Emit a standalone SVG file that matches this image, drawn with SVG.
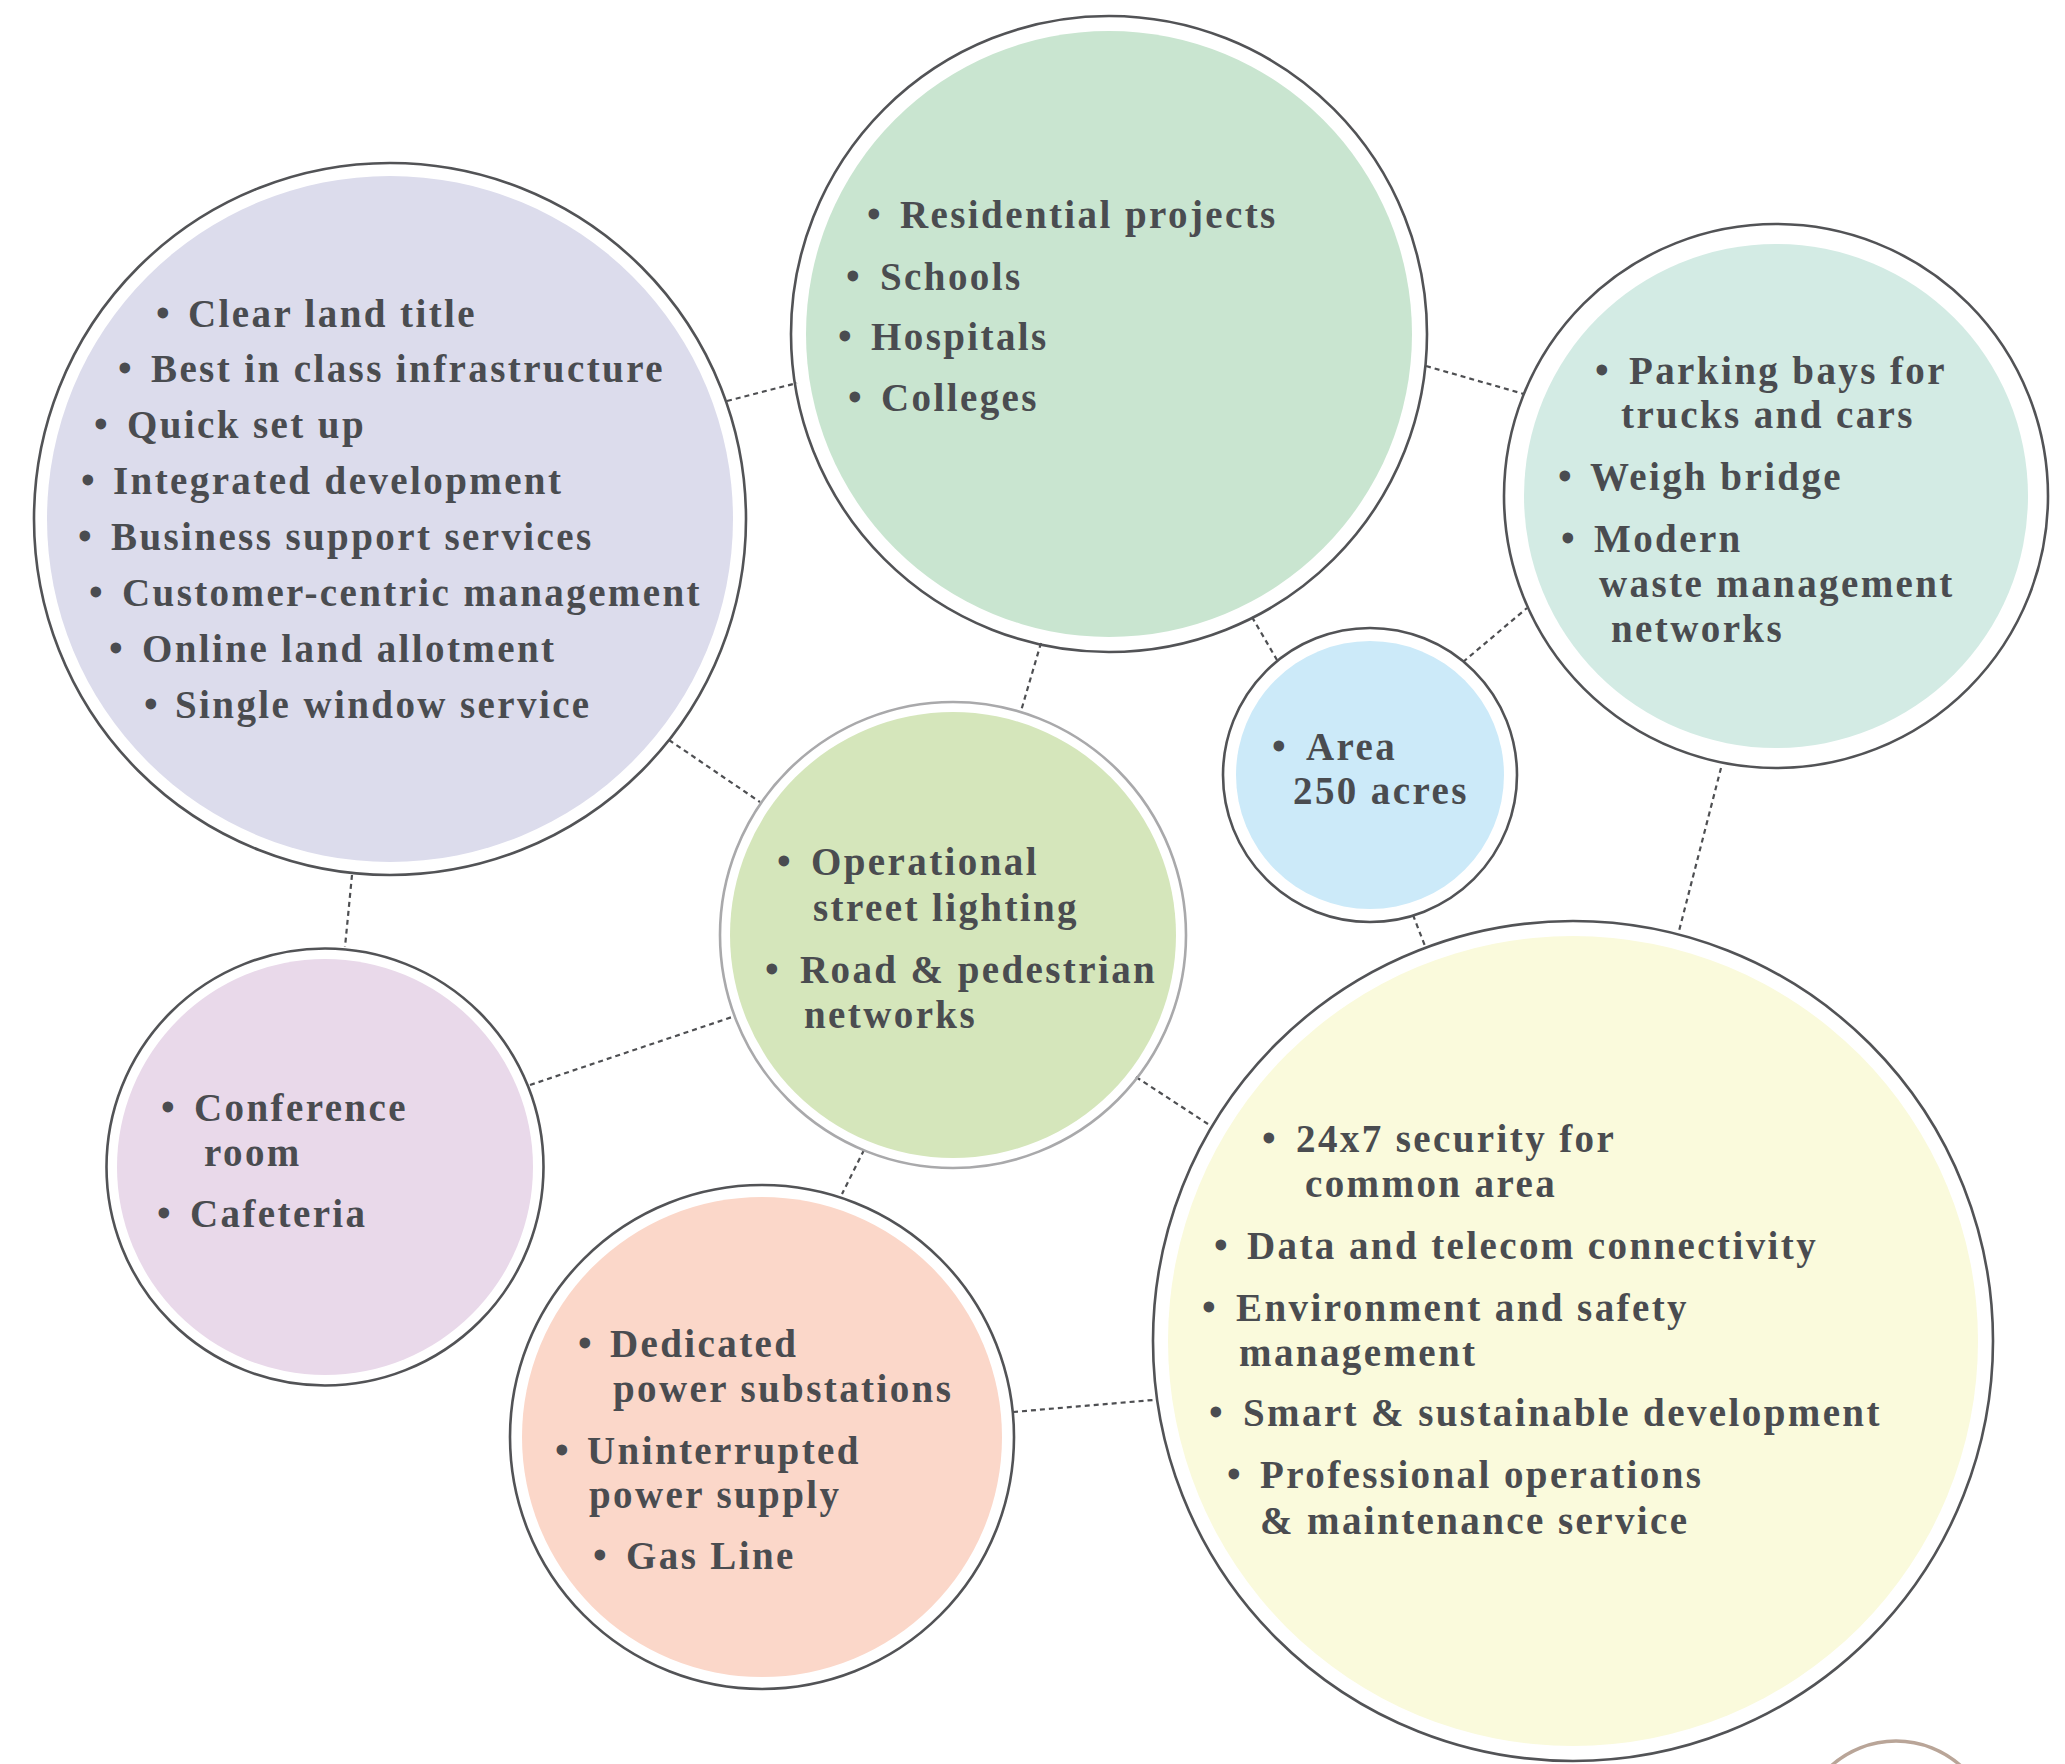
<svg xmlns="http://www.w3.org/2000/svg" width="2065" height="1764" viewBox="0 0 2065 1764">
<style>
.ring{fill:none;stroke:#525356;stroke-width:2.6}
.ringl{fill:none;stroke:#a9a9ab;stroke-width:2.6}
.t{font-family:"Liberation Serif","Times New Roman",serif;font-weight:bold;font-size:39px;letter-spacing:2.4px;fill:#4a4c50}
.c{fill:none;stroke:#4e4f52;stroke-width:2.2;stroke-dasharray:5 4}
</style>
<rect width="2065" height="1764" fill="#ffffff"/>
<g id="connectors">
<line class="c" x1="727" y1="401" x2="797" y2="383"/>
<line class="c" x1="669" y1="740" x2="760" y2="802"/>
<line class="c" x1="352" y1="875" x2="345" y2="947"/>
<line class="c" x1="1426" y1="366" x2="1524" y2="394"/>
<line class="c" x1="1041" y1="643" x2="1021" y2="711"/>
<line class="c" x1="1252" y1="617" x2="1277" y2="660"/>
<line class="c" x1="1463" y1="662" x2="1527" y2="608"/>
<line class="c" x1="1721" y1="768" x2="1679" y2="931"/>
<line class="c" x1="1413" y1="915" x2="1425" y2="946"/>
<line class="c" x1="1136" y1="1077" x2="1211" y2="1126"/>
<line class="c" x1="1013" y1="1412" x2="1153" y2="1400"/>
<line class="c" x1="530" y1="1085" x2="735" y2="1016"/>
<line class="c" x1="864" y1="1150" x2="842" y2="1194"/>
</g>
<g id="n1">
<circle cx="390" cy="519" r="343" fill="#dcdcec"/>
<circle class="ring" cx="390" cy="519" r="356"/>
<text class="t" y="327"><tspan x="156">•</tspan><tspan x="188">Clear land title</tspan></text>
<text class="t" y="382"><tspan x="118">•</tspan><tspan x="151">Best in class infrastructure</tspan></text>
<text class="t" y="438"><tspan x="94">•</tspan><tspan x="127">Quick set up</tspan></text>
<text class="t" y="494"><tspan x="81">•</tspan><tspan x="113">Integrated development</tspan></text>
<text class="t" y="550"><tspan x="78">•</tspan><tspan x="111">Business support services</tspan></text>
<text class="t" y="606"><tspan x="89">•</tspan><tspan x="122">Customer-centric management</tspan></text>
<text class="t" y="662"><tspan x="109">•</tspan><tspan x="142">Online land allotment</tspan></text>
<text class="t" y="718"><tspan x="144">•</tspan><tspan x="175">Single window service</tspan></text>
</g>
<g id="n2">
<circle cx="1109" cy="334" r="303" fill="#c9e5d0"/>
<circle class="ring" cx="1109" cy="334" r="318"/>
<text class="t" y="228"><tspan x="867">•</tspan><tspan x="900">Residential projects</tspan></text>
<text class="t" y="290"><tspan x="846">•</tspan><tspan x="880">Schools</tspan></text>
<text class="t" y="350"><tspan x="838">•</tspan><tspan x="871">Hospitals</tspan></text>
<text class="t" y="411"><tspan x="848">•</tspan><tspan x="881">Colleges</tspan></text>
</g>
<g id="n3">
<circle cx="1776" cy="496" r="252" fill="#d3ebe4"/>
<circle class="ring" cx="1776" cy="496" r="272"/>
<text class="t" y="384"><tspan x="1595">•</tspan><tspan x="1629">Parking bays for</tspan></text>
<text class="t" y="428" x="1621">trucks and cars</text>
<text class="t" y="490"><tspan x="1558">•</tspan><tspan x="1590">Weigh bridge</tspan></text>
<text class="t" y="552"><tspan x="1561">•</tspan><tspan x="1594">Modern</tspan></text>
<text class="t" y="597" x="1599">waste management</text>
<text class="t" y="642" x="1611">networks</text>
</g>
<g id="n4">
<circle cx="1370" cy="775" r="134" fill="#cceaf9"/>
<circle class="ring" cx="1370" cy="775" r="147"/>
<text class="t" y="760"><tspan x="1272">•</tspan><tspan x="1306">Area</tspan></text>
<text class="t" y="804" x="1293">250 acres</text>
</g>
<g id="n5">
<circle cx="953" cy="935" r="223" fill="#d5e6bb"/>
<circle class="ringl" cx="953" cy="935" r="233"/>
<text class="t" y="875"><tspan x="777">•</tspan><tspan x="811">Operational</tspan></text>
<text class="t" y="921" x="813">street lighting</text>
<text class="t" y="983"><tspan x="765">•</tspan><tspan x="800">Road &amp; pedestrian</tspan></text>
<text class="t" y="1028" x="804">networks</text>
</g>
<g id="n6">
<circle cx="325" cy="1167" r="208" fill="#e9d9ea"/>
<circle class="ring" cx="325" cy="1167" r="218.5"/>
<text class="t" y="1121"><tspan x="161">•</tspan><tspan x="194">Conference</tspan></text>
<text class="t" y="1166" x="204">room</text>
<text class="t" y="1227"><tspan x="157">•</tspan><tspan x="190">Cafeteria</tspan></text>
</g>
<g id="n7">
<circle cx="762" cy="1437" r="240" fill="#fbd7c9"/>
<circle class="ring" cx="762" cy="1437" r="252"/>
<text class="t" y="1357"><tspan x="578">•</tspan><tspan x="610">Dedicated</tspan></text>
<text class="t" y="1402" x="613">power substations</text>
<text class="t" y="1464"><tspan x="555">•</tspan><tspan x="587">Uninterrupted</tspan></text>
<text class="t" y="1508" x="589">power supply</text>
<text class="t" y="1569"><tspan x="593">•</tspan><tspan x="626">Gas Line</tspan></text>
</g>
<g id="n8">
<circle cx="1573" cy="1341" r="405" fill="#fafadc"/>
<circle class="ring" cx="1573" cy="1341" r="420"/>
<text class="t" y="1152"><tspan x="1262">•</tspan><tspan x="1296">24x7 security for</tspan></text>
<text class="t" y="1197" x="1305">common area</text>
<text class="t" y="1259"><tspan x="1214">•</tspan><tspan x="1247">Data and telecom connectivity</tspan></text>
<text class="t" y="1321"><tspan x="1202">•</tspan><tspan x="1236">Environment and safety</tspan></text>
<text class="t" y="1366" x="1239">management</text>
<text class="t" y="1426"><tspan x="1209">•</tspan><tspan x="1243">Smart &amp; sustainable development</tspan></text>
<text class="t" y="1488"><tspan x="1227">•</tspan><tspan x="1260">Professional operations</tspan></text>
<text class="t" y="1534" x="1260">&amp; maintenance service</text>
</g>
<g id="n9">
<circle cx="1896" cy="1838" r="97" fill="none" stroke="#b9a598" stroke-width="3.5"/>
</g>
</svg>
